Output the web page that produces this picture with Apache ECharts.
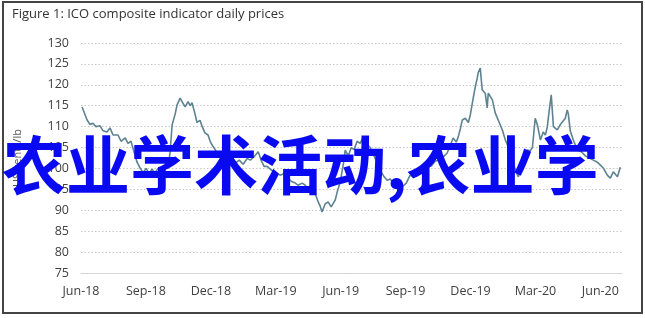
<!DOCTYPE html>
<html>
<head>
<meta charset="utf-8">
<script src="https://cdn.jsdelivr.net/npm/echarts@6/dist/echarts.min.js"></script>
<style>html,body{margin:0;padding:0;background:#fff}#c{width:645px;height:318px}</style>
</head>
<body>
<div id="c"></div>
<script>
// x positions: months since 1 Jun 2018
const monthOffsets = [0.05,0.14,0.28,0.42,0.55,0.69,0.88,1.02,1.20,1.34,1.48,1.71,1.85,2.04,2.17,2.31,2.40,2.59,2.73,2.87,3.01,3.14,3.28,3.42,3.56,3.70,3.88,4.02,4.12,4.21,4.35,4.44,4.58,4.67,4.81,4.95,5.04,5.13,5.27,5.36,5.50,5.60,5.73,5.87,5.97,6.06,6.20,6.29,6.43,6.57,6.75,6.94,7.12,7.31,7.49,7.68,7.82,8.00,8.19,8.32,8.46,8.60,8.83,9.02,9.20,9.39,9.57,9.76,9.90,10.03,10.22,10.36,10.50,10.68,10.82,10.96,11.05,11.14,11.28,11.42,11.56,11.65,11.75,11.84,11.98,12.12,12.21,12.35,12.49,12.62,12.76,12.90,13.04,13.18,13.36,13.50,13.69,13.83,14.01,14.15,14.29,14.43,14.61,14.75,14.89,15.03,15.21,15.35,15.45,15.63,15.82,16.00,16.18,16.37,16.60,16.79,16.92,17.06,17.20,17.34,17.43,17.53,17.62,17.76,17.90,17.99,18.13,18.22,18.31,18.36,18.45,18.54,18.68,18.77,18.82,18.91,19.01,19.14,19.28,19.47,19.61,19.75,19.88,20.02,20.12,20.21,20.30,20.39,20.53,20.62,20.76,20.86,20.99,21.09,21.23,21.36,21.46,21.55,21.64,21.73,21.83,22.01,22.15,22.24,22.38,22.47,22.52,22.61,22.75,22.94,23.12,23.31,23.49,23.68,23.86,24.00,24.14,24.32,24.46,24.60,24.79,24.92];
const prices = [114.7,113.5,111.6,110.5,110.8,110,110.2,109,108.7,109.7,108,108,106.5,107.3,106,106.5,104.9,101.5,100.1,99,100,98.8,99.8,99,100,99.2,100,100.1,104,110.4,113,115.2,116.8,116,114.7,116,115,115.7,113,111,111.5,110,108.5,108,106.5,105.6,104.5,103.7,102.8,102.5,101.5,102.3,101.2,102,101,102.4,102,102.8,104,102,100.5,100.5,99.5,99,98.4,98.8,97.5,96.8,96.5,96,96.5,96,94.4,94.8,94,92,91,89.6,91.5,92,90.8,90.5,92.5,94.4,96.8,101,104.4,103,105,104.5,106.5,106,107.5,106,105,103.5,101.3,99.5,98,97.2,97.5,96.5,96.8,95.5,95.8,96.5,98.4,98,99.6,100,100.5,101.3,100.5,101.8,102,103,103.7,105.5,107.3,106.3,107.5,109.5,111.6,112,111,112.8,117,119.5,121.6,123,124,118.8,118,114.5,118,118.3,116.4,113.3,111.6,109.2,106.8,105.1,103.5,100.5,99,98,99.5,102.7,103.5,104.4,104.2,105,112,110.4,106.8,108.7,108,110,114,117.6,110,109.2,110.5,110.9,112,114,113,109,106.8,104.4,104,103,102.5,102,101.5,100.8,100.1,98.4,97.7,99.2,98,100.3];
const xTickLabels = ['Jun-18','Sep-18','Dec-18','Mar-19','Jun-19','Sep-19','Dec-19','Mar-20','Jun-20'];
const yTicks = [75,80,85,90,95,100,105,110,115,120,125,130];
const titleText = 'Figure 1: ICO composite indicator daily prices';
const yAxisName = 'US cents/lb';
const overlayText = '农业学术活动,农业学';

const chart = echarts.init(document.getElementById('c'), null, {renderer: 'canvas'});
const seriesData = monthOffsets.map((m, i) => [m, prices[i]]);
chart.setOption({
  animation: false,
  backgroundColor: '#fff',
  grid: {left: 81, right: 23, top: 43, bottom: 45, containLabel: false},
  xAxis: {
    type: 'value', min: 0, max: 25, interval: 3,
    axisLine: {show: true, lineStyle: {color: '#d4d4d4', width: 1}},
    axisTick: {show: false},
    splitLine: {show: false},
    axisLabel: {
      color: '#404040', fontSize: 12.5, fontFamily: 'Open Sans', margin: 12,
      showMaxLabel: false,
      formatter: v => xTickLabels[Math.round(v / 3)] || ''
    }
  },
  yAxis: {
    type: 'value', min: yTicks[0], max: yTicks[yTicks.length - 1], interval: 5,
    name: yAxisName, nameLocation: 'middle', nameGap: 58, nameRotate: 90,
    nameTextStyle: {color: '#555', fontSize: 11, fontFamily: 'Open Sans'},
    axisLine: {show: false}, axisTick: {show: false},
    splitLine: {show: true, lineStyle: {color: '#c8c8c8', type: [1.5, 2], width: 1.2}},
    axisLabel: {color: '#404040', fontSize: 12.5, fontFamily: 'Open Sans', margin: 12}
  },
  series: [{
    type: 'line', data: seriesData, showSymbol: false, symbol: 'none',
    lineStyle: {color: '#5d8290', width: 1.6}, z: 3
  }],
  graphic: [
    {type: 'rect', shape: {x: 3, y: 2, width: 639, height: 311}, style: {fill: 'none', stroke: '#444', lineWidth: 2}, z: 10},
    {type: 'text', left: 12, top: 8, style: {text: titleText, fill: '#333', fontSize: 13, fontFamily: 'Open Sans'}, z: 10},
    {type: 'text', left: 2, top: 133, style: {text: overlayText, fill: '#0a0af2', fontSize: 64, fontWeight: 'bold', fontFamily: 'Noto Sans CJK SC'}, z: 20}
  ]
});
</script>
</body>
</html>
